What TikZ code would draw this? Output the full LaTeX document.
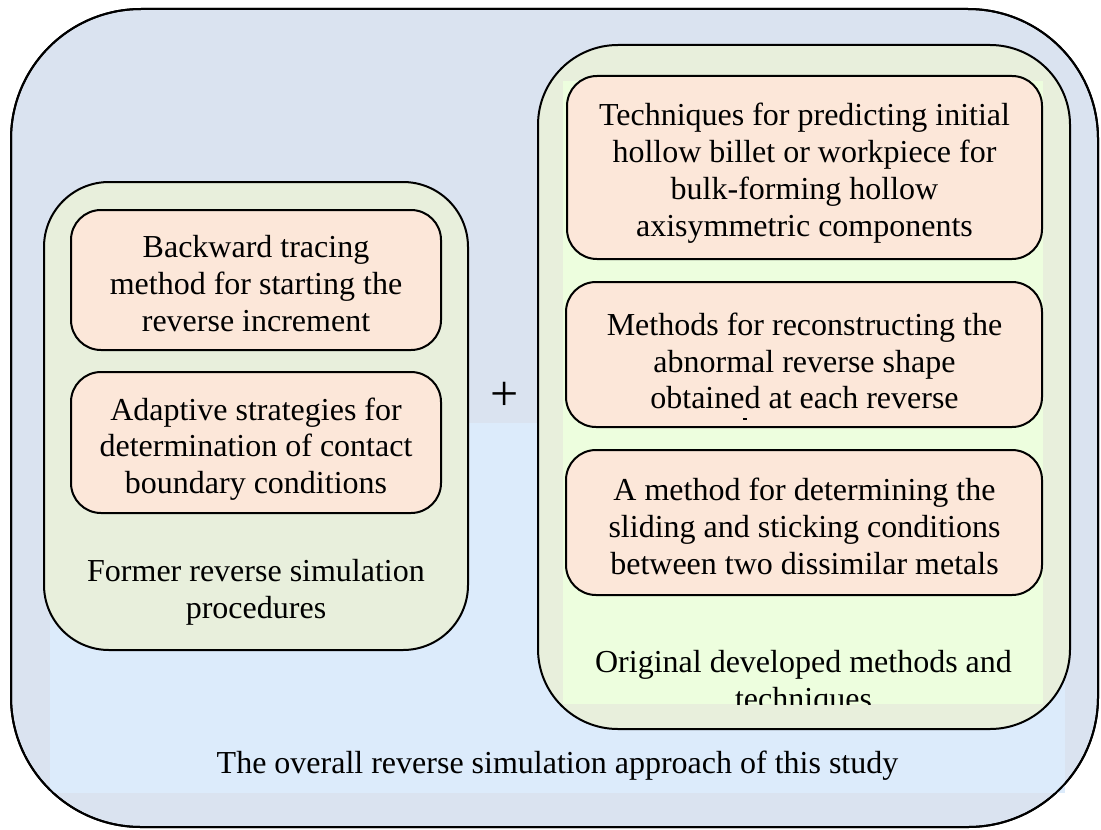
\documentclass[tikz,border=0pt]{standalone}
\usepackage{fontspec}
\setmainfont{Liberation Serif}
\definecolor{outerblue}{HTML}{DAE3F0}
\definecolor{labelblue}{HTML}{DCEBFB}
\definecolor{groupgreen}{HTML}{E8EFDC}
\definecolor{labelgreen}{HTML}{EDFEDE}
\definecolor{itempink}{HTML}{FCE7D9}
\begin{document}
\begin{tikzpicture}[x=0.5pt,y=-0.5pt,
  every node/.style={inner sep=0pt, outer sep=0pt},
  frame/.style={draw=black, line width=1pt},
  item/.style={frame, fill=itempink, rounded corners=15pt, minimum width=#1},
  body/.style={font=\fontsize{16pt}{18.4pt}\selectfont, align=center, text=black}]
\useasboundingbox (0,0) rectangle (1101,829);

% overall frame and its caption strip
\node[frame, fill=outerblue, rounded corners=65pt, minimum width=543.5pt, minimum height=409pt] (outer) at (554.5,418) {};
\node[fill=labelblue, minimum width=507.5pt, minimum height=185pt] (overallstrip) at (557.5,608) {};
\draw[frame, rounded corners=65pt] (outer.north west) rectangle (outer.south east);

% left group: former procedures
\node[frame, fill=groupgreen, rounded corners=32.5pt, minimum width=212pt, minimum height=234pt] (former) at (256,416) {};
\node[item=185pt, minimum height=70pt] (backward) at (256,280) {};
\node[item=185pt, minimum height=70.5pt] (adaptive) at (256,442.5) {};

% right group: original methods
\node[frame, fill=groupgreen, rounded corners=40pt, minimum width=266pt, minimum height=342pt] (original) at (804,387) {};
\node[fill=labelgreen, minimum width=240pt, minimum height=311.5pt] (originalstrip) at (803,392.5) {};
\node[item=237.5pt, minimum height=91.5pt] (predict) at (804.5,167.5) {};
\node[item=238pt, minimum height=72.5pt] (reconstruct) at (804,354.5) {};
\node[item=238pt, minimum height=72.5pt] (sliding) at (804,522.5) {};

% texts
\node[body] (backwardtxt) at (256,283.5) {Backward tracing\\method for starting the\\reverse increment};
\node[body] (adaptivetxt) at (256,449) {Adaptive strategies for\\determination of contact\\boundary conditions};
\node[body] (formertxt) at (256,592) {Former reverse simulation\\procedures};

\node[body] (predicttxt) at (804.5,173) {Techniques for predicting initial\\hollow billet or workpiece for\\bulk-forming hollow\\axisymmetric components};
\node[body] (reconstructtxt) at (804.5,361) {Methods for reconstructing the\\abnormal reverse shape\\obtained at each reverse};
\fill (743,418) rectangle (747,420);
\node[body] (slidingtxt) at (804.5,526.5) {A method for determining the\\sliding and sticking conditions\\between two dissimilar metals};

\begin{scope}
  \clip (originalstrip.north west) rectangle (originalstrip.south east);
  \node[body] (originaltxt) at (803.5,683) {Original developed methods and\\techniques};
\end{scope}

\node[body, font=\fontsize{25pt}{25pt}\selectfont] (plus) at (505,396) {+};

\node[body, anchor=base] (overalltxt) at (557.5,773) {The overall reverse simulation approach of this study};
\end{tikzpicture}
\end{document}
